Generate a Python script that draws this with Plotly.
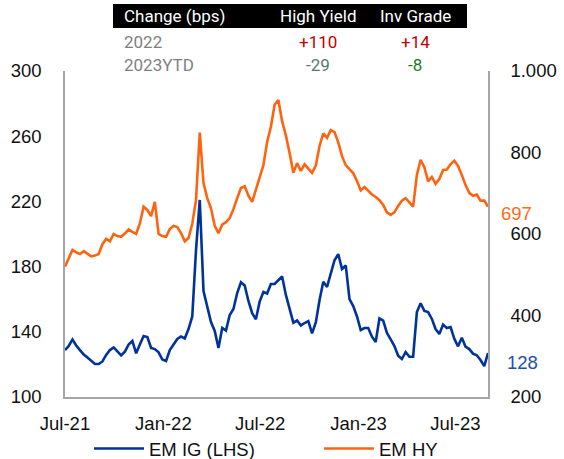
import pandas as pd
import plotly.graph_objects as go

# Weekly observations, Jul-2021 .. Aug-2023
dates = pd.date_range(start="2021-07-01", periods=114, freq="7D")

em_ig = [128.8, 131.3, 135.3, 131.6, 128.8, 126.0, 124.2, 122.1, 120.2, 120.2,
         121.8, 125.8, 128.8, 130.4, 127.9, 125.5, 127.8, 132.2, 134.4, 126.8,
         132.2, 137.4, 136.8, 130.1, 129.4, 127.4, 123.0, 122.1, 128.8, 132.5,
         135.6, 137.1, 135.9, 141.7, 149.4, 190.2, 220.9, 165.0, 155.8, 146.0,
         140.5, 130.1, 142.3, 140.7, 150.3, 154.0, 163.8, 170.4, 168.4, 158.9,
         151.4, 147.7, 158.5, 164.4, 163.5, 169.3, 169.3, 171.8, 173.9, 162.6,
         154.0, 145.6, 146.9, 143.9, 145.4, 146.6, 139.0, 145.7, 159.5, 170.7,
         167.5, 176.1, 183.9, 187.7, 178.5, 180.7, 160.1, 155.8, 149.4, 141.1,
         142.3, 142.3, 137.0, 133.7, 148.3, 146.9, 139.3, 135.3, 131.3, 125.3,
         123.3, 127.6, 124.7, 124.7, 152.1, 157.5, 152.8, 152.1, 147.9, 141.7,
         138.7, 144.4, 142.3, 142.9, 135.7, 131.1, 136.4, 130.9, 129.4, 126.6,
         125.6, 122.7, 119.0, 127.0]

em_hy = [520, 541, 561, 555, 551, 558, 552, 545, 547, 551,
         575, 588, 582, 600, 595, 593, 601, 611, 605, 600,
         626, 667, 659, 644, 679, 600, 595, 593, 612, 620,
         617, 602, 582, 590, 625, 683, 849, 725, 688, 663,
         620, 602, 623, 629, 639, 661, 688, 713, 717, 694,
         679, 708, 741, 769, 826, 863, 917, 929, 877, 842,
         799, 750, 774, 755, 771, 760, 750, 768, 816, 847,
         836, 855, 850, 825, 791, 769, 758, 749, 730, 707,
         715, 706, 697, 691, 683, 671, 653, 647, 653, 669,
         682, 688, 676, 667, 745, 782, 764, 729, 740, 723,
         735, 757, 758, 771, 780, 767, 745, 720, 701, 694,
         697, 682, 682, 667]

x_tick_vals = ["2021-07-01", "2022-01-01", "2022-07-01", "2023-01-01", "2023-07-01"]
x_tick_text = ["Jul-21", "Jan-22", "Jul-22", "Jan-23", "Jul-23"]
left_ticks = [100, 140, 180, 220, 260, 300]
right_ticks = [200, 400, 600, 800, 1000]
right_tick_text = ["200", "400", "600", "800", "1.000"]

table_header = ["Change (bps)", "High Yield", "Inv Grade"]
table_rows = [("2022", "+110", "+14"), ("2023YTD", "-29", "-8")]
row_colors = [("#7F7F7F", "#C00000", "#C00000"), ("#7F7F7F", "#557A68", "#1E7B1E")]

last_hy_label = "697"
last_ig_label = "128"

BLUE = "#003399"
ORANGE = "#FF6310"
AXIS_GREY = "#A6A6A6"
AXFONT = dict(family="Liberation Sans, Arial", size=18.5, color="#111111")
TFONT = "Roboto, Liberation Sans"

# figure geometry (px)
W_FIG, H_FIG = 564, 459
L, R, T, B = 65, 488, 71, 397
PW, PH = R - L, B - T


def px(x):
    return (x - L) / PW


def py(y):
    return (B - y) / PH


fig = go.Figure()
fig.add_trace(go.Scatter(x=dates, y=em_hy, name="EM HY", yaxis="y2", mode="lines",
                         line=dict(color=ORANGE, width=2.6), legend="legend2"))
fig.add_trace(go.Scatter(x=dates, y=em_ig, name="EM IG (LHS)", yaxis="y", mode="lines",
                         line=dict(color=BLUE, width=2.6), legend="legend"))

shapes = [dict(type="rect", xref="paper", yref="paper", x0=px(113), x1=px(467),
               y0=py(28), y1=py(4), fillcolor="black", line=dict(width=0), layer="above")]

annotations = []
hdr_x = [(122, "left"), (318, "center"), (415, "center")]
for (xx, anc), txt in zip(hdr_x, table_header):
    annotations.append(dict(text=txt, x=px(xx), y=py(16), xref="paper", yref="paper",
                            xanchor=anc, yanchor="middle", showarrow=False,
                            font=dict(family=TFONT, size=17, color="white")))
for row, cols, yy in zip(table_rows, row_colors, [42, 65]):
    for (xx, anc), txt, col in zip(hdr_x, row, cols):
        annotations.append(dict(text=txt, x=px(xx), y=py(yy), xref="paper", yref="paper",
                                xanchor=anc, yanchor="middle", showarrow=False,
                                font=dict(family=TFONT, size=17, color=col)))

annotations.append(dict(text=last_hy_label, x=px(499), y=py(213), xref="paper", yref="paper",
                        xanchor="left", yanchor="middle", showarrow=False,
                        font=dict(family="Liberation Sans, Arial", size=18.5, color="#FF6A13")))
annotations.append(dict(text=last_ig_label, x=px(505), y=py(362), xref="paper", yref="paper",
                        xanchor="left", yanchor="middle", showarrow=False,
                        font=dict(family="Liberation Sans, Arial", size=18.5, color="#2050A8")))

legend_common = dict(orientation="h", xanchor="left", yanchor="middle", font=AXFONT,
                     itemwidth=50, bgcolor="rgba(0,0,0,0)", borderwidth=0)

fig.update_layout(
    width=W_FIG, height=H_FIG,
    margin=dict(l=L, r=W_FIG - R, t=T, b=H_FIG - B, pad=0, autoexpand=False),
    paper_bgcolor="white", plot_bgcolor="white",
    showlegend=True,
    legend=dict(x=px(89), y=py(449), **legend_common),
    legend2=dict(x=px(319), y=py(449), **legend_common),
    xaxis=dict(type="date", range=["2021-07-01", "2023-08-31"], tickvals=x_tick_vals,
               ticktext=x_tick_text, showgrid=False, zeroline=False, showline=True,
               linecolor=AXIS_GREY, linewidth=1.5, ticks="", tickfont=AXFONT,
               ticklabelstandoff=9, automargin=False),
    yaxis=dict(range=[100, 300], tickvals=left_ticks, showgrid=False, zeroline=False,
               showline=True, linecolor=AXIS_GREY, linewidth=1.5, ticks="",
               tickfont=AXFONT, ticklabelstandoff=18, automargin=False),
    yaxis2=dict(range=[200, 1000], tickvals=right_ticks, ticktext=right_tick_text,
                overlaying="y", side="right", showgrid=False, zeroline=False,
                showline=True, linecolor=AXIS_GREY, linewidth=1.5, ticks="",
                tickfont=AXFONT, ticklabelstandoff=17, automargin=False),
    shapes=shapes,
    annotations=annotations,
)

fig.write_html("out.html", config={"displayModeBar": False},
               post_script="document.body.style.margin='0';")
